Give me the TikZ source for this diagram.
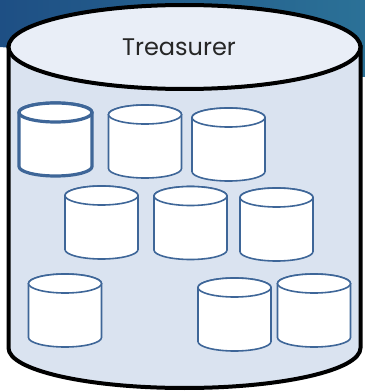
\documentclass[tikz,border=0pt]{standalone}
\usepackage{fontspec}
\setmainfont{Poppins}
\begin{document}
\definecolor{bandL}{HTML}{1E4F84}
\definecolor{bandR}{HTML}{2B7197}
\definecolor{bodyfill}{HTML}{DAE3F0}
\definecolor{lidfill}{HTML}{E9EEF7}
\definecolor{dbline}{HTML}{3E6698}
\begin{tikzpicture}[x=1pt,y=1pt,
  outer/.style={draw=black,line width=4pt},
  dbstyle/.style={draw=dbline,line width=1.6pt,fill=white},
  dbthick/.style={draw=dbline,line width=3.2pt,fill=white},
  pics/db/.style={code={
    \filldraw[#1] (-36.5,-9.5) -- (-36.5,-63.5)
      arc[start angle=180,end angle=360,x radius=36.5,y radius=9.5]
      -- (36.5,-9.5)
      arc[start angle=0,end angle=180,x radius=36.5,y radius=9.5] -- cycle;
    \draw[#1] (0,-9.5) ellipse[x radius=36.5,y radius=9.5];
  }}]
\useasboundingbox (0,0) rectangle (365,392);
% header band behind the store
\shade[left color=bandL,right color=bandR] (0,392) -- (365,392) -- (365,315) -- (0,345) -- cycle;
% the large store
\filldraw[outer,fill=bodyfill] (8.5,345) -- (8.5,44)
  arc[start angle=180,end angle=360,x radius=176,y radius=40] -- (360.5,345) -- cycle;
\filldraw[outer,fill=lidfill] (184.5,345) ellipse[x radius=176,y radius=42];
\node[font=\fontsize{24}{28}\selectfont,text=black!85] (title) at (179,345) {Treasurer};
% the small stores inside
\pic at (55.5,289) {db=dbthick};
\pic at (145,287) {db=dbstyle};
\pic at (228.5,284) {db=dbstyle};
\pic at (101.5,206) {db=dbstyle};
\pic at (190.5,205.5) {db=dbstyle};
\pic at (276.5,204) {db=dbstyle};
\pic at (65,118) {db=dbstyle};
\pic at (234.5,114) {db=dbstyle};
\pic at (314,118) {db=dbstyle};
\end{tikzpicture}
\end{document}
